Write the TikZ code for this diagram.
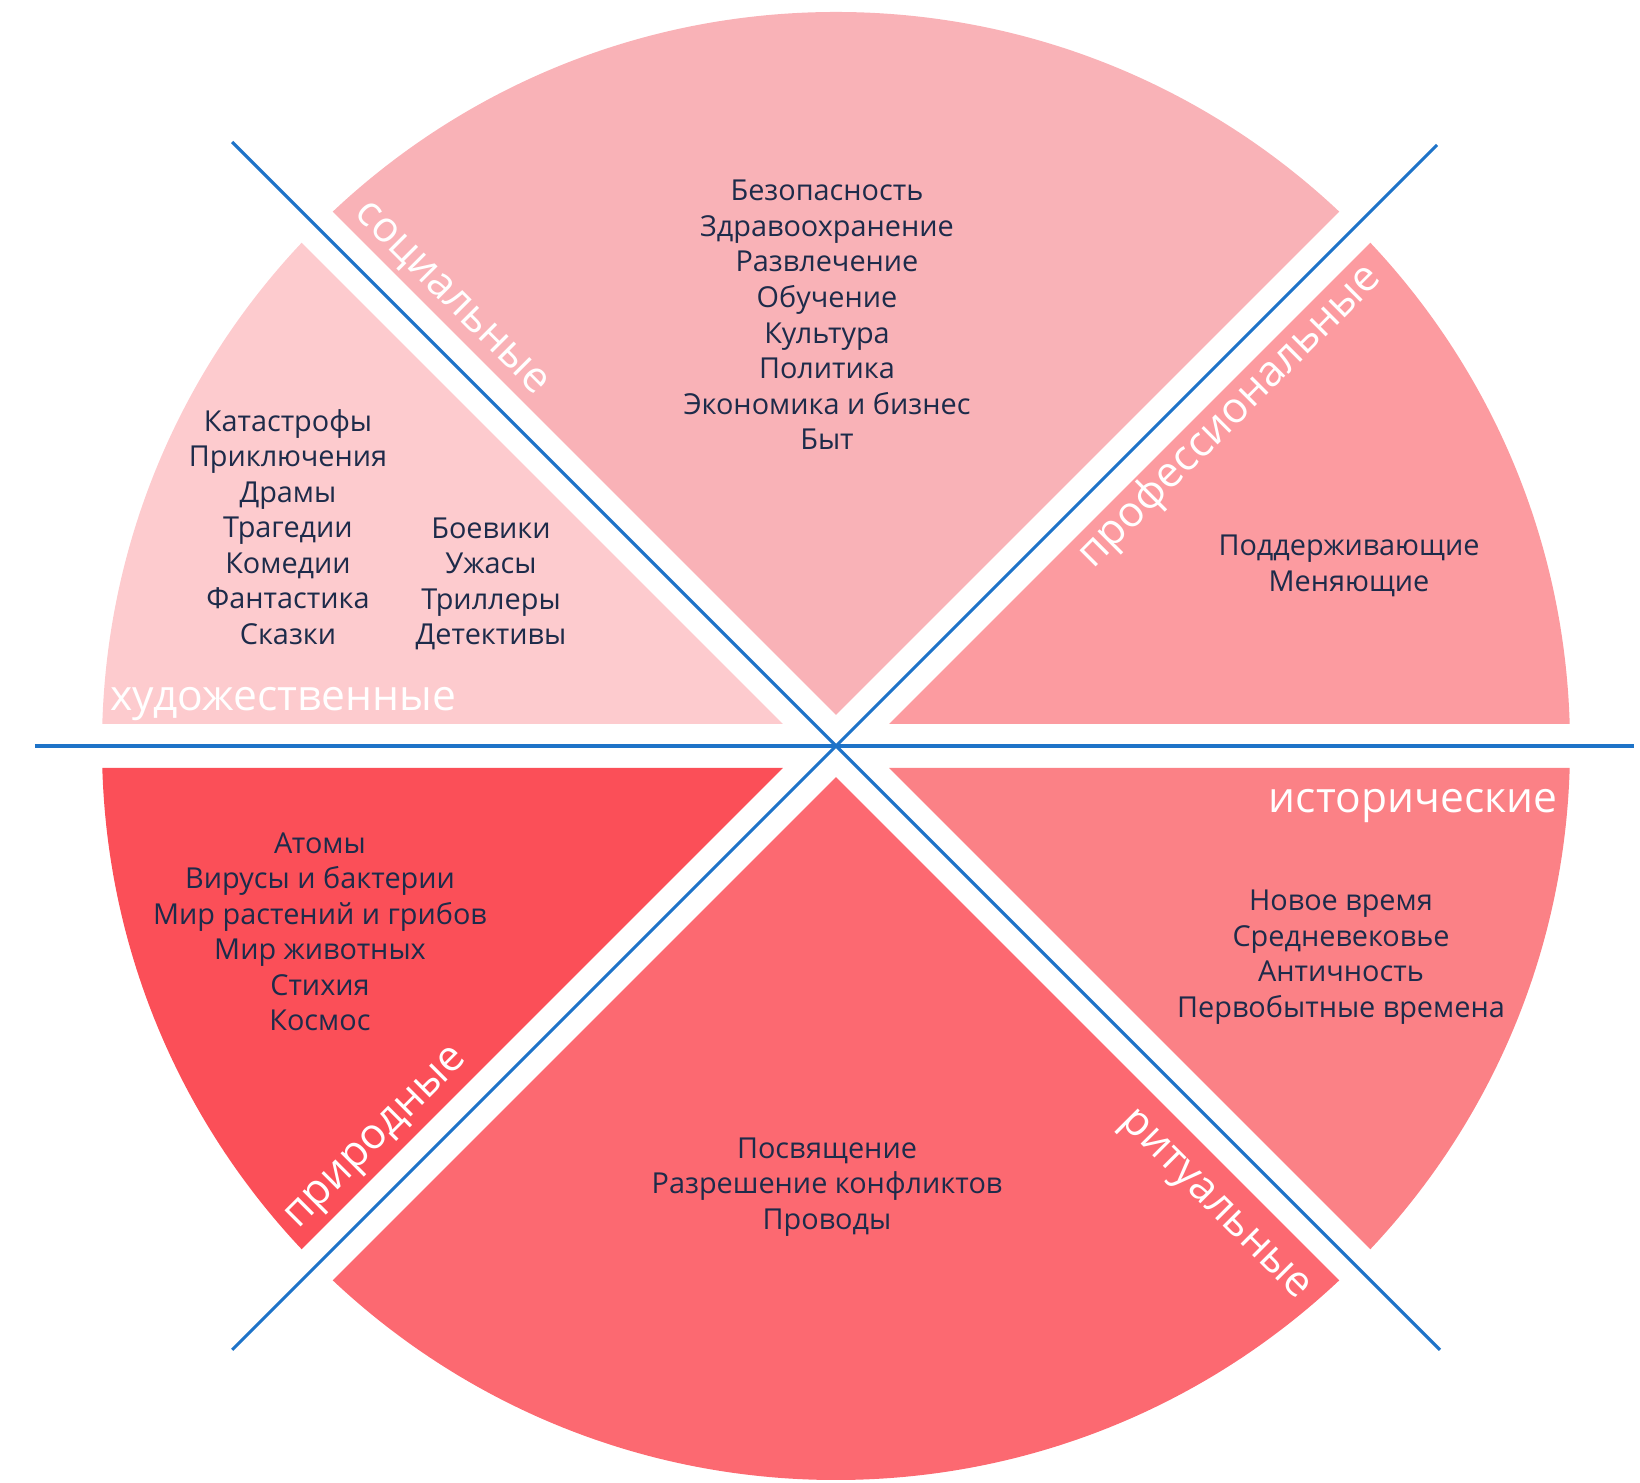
\documentclass[tikz,border=0pt]{standalone}
\usepackage{fontspec}
\setmainfont{Open Sans}

\definecolor{socpink}{HTML}{F9B2B7}
\definecolor{artpink}{HTML}{FDCBCE}
\definecolor{profpink}{HTML}{FC9BA0}
\definecolor{histpink}{HTML}{FB8186}
\definecolor{ritred}{HTML}{FC6971}
\definecolor{natred}{HTML}{FB4F58}
\definecolor{lineblue}{HTML}{1E73C8}
\definecolor{inkblue}{HTML}{1D2B4A}

\begin{document}
\begin{tikzpicture}[x=0.01cm, y=0.01cm,
    divider/.style={line width=0.9pt, draw=lineblue},
    topic/.style={font=\fontsize{8.2}{10.1}\selectfont, text=inkblue, align=center},
    sectorname/.style={font=\fontsize{12.1}{14}\selectfont, text=white, inner sep=0pt}
]
    \useasboundingbox (-836,-737) rectangle (804,746);

    % Sectors, cut out of the disc with a white gap along each divider
    \begin{scope}
        \clip (0,0) circle (734);
        \foreach \dir/\half/\col in {90/45/socpink, 157.5/22.5/artpink, 22.5/22.5/profpink,
                                     202.5/22.5/natred, 337.5/22.5/histpink, 270/45/ritred} {
            \pgfmathsetmacro{\apex}{22/sin(\half)}
            \fill[\col] (\dir:\apex) -- +(\dir-\half:1200) -- +(\dir+\half:1200) -- cycle;
        }
    \end{scope}

    % Dividers
    \draw[divider] (-801,0) -- (798,0);
    \draw[divider] (135:854) -- (-45:854);
    \draw[divider] (45:850) -- (225:854);

    % Sector names
    \node[sectorname, rotate=-45] (social) at (-386,446) {социальные};
    \node[sectorname, rotate=45] (prof) at (394,329) {профессиональные};
    \node[sectorname, anchor=base west] (art) at (-726,35) {художественные};
    \node[sectorname, anchor=base east] (hist) at (722,-67) {исторические};
    \node[sectorname, rotate=45] (nature) at (-458,-394) {природные};
    \node[sectorname, rotate=-45] (ritual) at (377,-461) {ритуальные};

    % Topics
    \node[topic] (socialtopics) at (-9,431) {Безопасность\\Здравоохранение\\Развлечение\\Обучение\\Культура\\Политика\\Экономика и бизнес\\Быт};
    \node[topic] (arttopics) at (-548,219) {Катастрофы\\Приключения\\Драмы\\Трагедии\\Комедии\\Фантастика\\Сказки};
    \node[topic] (genretopics) at (-345,162) {Боевики\\Ужасы\\Триллеры\\Детективы};
    \node[topic] (proftopics) at (513,180) {Поддерживающие\\Меняющие};
    \node[topic] (naturetopics) at (-516,-186) {Атомы\\Вирусы и бактерии\\Мир растений и грибов\\Мир животных\\Стихия\\Космос};
    \node[topic] (histtopics) at (505,-211) {Новое время\\Средневековье\\Античность\\Первобытные времена};
    \node[topic] (ritualtopics) at (-9,-441) {Посвящение\\Разрешение конфликтов\\Проводы};

\end{tikzpicture}
\end{document}
